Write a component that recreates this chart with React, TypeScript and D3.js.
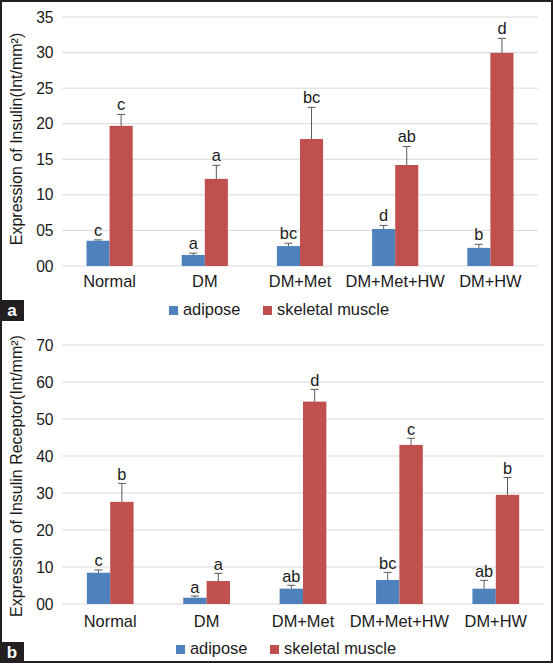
import React from "react";
import * as d3 from "d3";

const categories = ["Normal", "DM", "DM+Met", "DM+Met+HW", "DM+HW"];
const seriesNames = ["adipose", "skeletal muscle"];

// Panel a: Expression of Insulin
const insAdipose = [3.55, 1.55, 2.8, 5.2, 2.55];
const insAdiposeErr = [0.12, 0.25, 0.4, 0.5, 0.5];
const insMuscle = [19.7, 12.25, 17.85, 14.2, 29.95];
const insMuscleErr = [1.6, 1.9, 4.45, 2.6, 2.05];
const insAdiposeLbl = ["c", "a", "bc", "d", "b"];
const insMuscleLbl = ["c", "a", "bc", "ab", "d"];
const insTicks = [0, 5, 10, 15, 20, 25, 30, 35];
const insTickLabels = ["00", "05", "10", "15", "20", "25", "30", "35"];

// Panel b: Expression of Insulin Receptor
const recAdipose = [8.45, 1.7, 4.15, 6.5, 4.15];
const recAdiposeErr = [0.75, 0.45, 0.9, 2.05, 2.25];
const recMuscle = [27.6, 6.2, 54.7, 43.0, 29.5];
const recMuscleErr = [5.0, 2.1, 3.3, 1.8, 4.7];
const recAdiposeLbl = ["c", "a", "ab", "bc", "ab"];
const recMuscleLbl = ["b", "a", "d", "c", "b"];
const recTicks = [0, 10, 20, 30, 40, 50, 60, 70];
const recTickLabels = ["00", "10", "20", "30", "40", "50", "60", "70"];

const BLUE = "#4F81BD";
const RED = "#C0504D";
const FONT = "Liberation Sans, Arial, sans-serif";
const TXT = "#1a1a1a";
const FS = 16.4;

type PanelProps = {
  top: number; bottom: number; right: number; max: number;
  ticks: number[]; tickLabels: string[];
  adipose: number[]; adiposeErr: number[]; muscle: number[]; muscleErr: number[];
  adiposeLbl: string[]; muscleLbl: string[];
  title: string; titleY: number; catY: number; legendY: number; legendX: number;
  lblOffset: number;
};

function Panel(p: PanelProps) {
  const left = 62;
  const y = d3.scaleLinear().domain([0, p.max]).range([p.bottom, p.top]);
  const x0 = d3.scaleBand<string>().domain(categories).range([left, p.right])
    .paddingInner(0.515).paddingOuter(0.2575);
  const x1 = d3.scaleBand<string>().domain(seriesNames).range([0, x0.bandwidth()]);
  const series = [
    { name: seriesNames[0], vals: p.adipose, errs: p.adiposeErr, lbls: p.adiposeLbl, color: BLUE },
    { name: seriesNames[1], vals: p.muscle, errs: p.muscleErr, lbls: p.muscleLbl, color: RED },
  ];
  return (
    <g>
      {p.ticks.map((t, i) => (
        <g key={t}>
          <line x1={left} x2={p.right} y1={y(t)} y2={y(t)} stroke="#D9D9D9" strokeWidth={1} />
          <text x={53.5} y={y(t)} dy="0.36em" textAnchor="end" fontSize={15.6} fill={TXT}>{p.tickLabels[i]}</text>
        </g>
      ))}
      {series.map((s) => (
        <g key={s.name}>
          {categories.map((c, i) => {
            const bx = (x0(c) as number) + (x1(s.name) as number);
            const bw = x1.bandwidth();
            const cx = bx + bw / 2;
            const top = y(s.vals[i]);
            const et = y(s.vals[i] + s.errs[i]);
            return (
              <g key={c}>
                <rect x={bx} y={top} width={bw} height={y(0) - top} fill={s.color} />
                <line x1={cx} x2={cx} y1={top} y2={et} stroke="#595959" strokeWidth={1} />
                <line x1={cx - 4} x2={cx + 4} y1={et} y2={et} stroke="#595959" strokeWidth={1} />
                <text x={cx} y={et - p.lblOffset} textAnchor="middle" fontSize={FS} fill={TXT}>{s.lbls[i]}</text>
              </g>
            );
          })}
        </g>
      ))}
      {categories.map((c) => (
        <text key={c} x={(x0(c) as number) + x0.bandwidth() / 2} y={p.catY} textAnchor="middle" fontSize={FS} fill={TXT}>{c}</text>
      ))}
      <text transform={`translate(22,${p.titleY}) rotate(-90)`} textAnchor="middle" fontSize={16} fill={TXT}>{p.title}</text>
      <g>
        <rect x={p.legendX} y={p.legendY - 9} width={9} height={9} fill={BLUE} />
        <text x={p.legendX + 14} y={p.legendY} fontSize={FS} fill={TXT}>{seriesNames[0]}</text>
        <rect x={p.legendX + 94} y={p.legendY - 9} width={9} height={9} fill={RED} />
        <text x={p.legendX + 108} y={p.legendY} fontSize={FS} fill={TXT}>{seriesNames[1]}</text>
      </g>
    </g>
  );
}

export default function App() {
  return (
    <svg width={553} height={664} style={{ position: "absolute", left: 0, top: 0, background: "#fff" }} fontFamily={FONT}>
      <rect x={0} y={0} width={553} height={664} fill="#fff" />
      <Panel top={17} bottom={266} right={538} max={35} ticks={insTicks} tickLabels={insTickLabels}
        adipose={insAdipose} adiposeErr={insAdiposeErr} muscle={insMuscle} muscleErr={insMuscleErr}
        adiposeLbl={insAdiposeLbl} muscleLbl={insMuscleLbl}
        title="Expression of Insulin(Int/mm²)" titleY={139} catY={287} legendY={315} legendX={169} lblOffset={4} />
      <Panel top={345} bottom={604} right={544} max={70} ticks={recTicks} tickLabels={recTickLabels}
        adipose={recAdipose} adiposeErr={recAdiposeErr} muscle={recMuscle} muscleErr={recMuscleErr}
        adiposeLbl={recAdiposeLbl} muscleLbl={recMuscleLbl}
        title="Expression of Insulin Receptor(Int/mm²)" titleY={476} catY={627} legendY={654} legendX={176} lblOffset={3.5} />
      <rect x={1} y={1} width={551} height={661} fill="none" stroke="#231F20" strokeWidth={2} />
      <rect x={0} y={300} width={24} height={21} fill="#231F20" />
      <text x={12} y={316} textAnchor="middle" fontSize={17} fontWeight="bold" fill="#fff">a</text>
      <rect x={0} y={642} width={24} height={21} fill="#231F20" />
      <text x={12} y={658} textAnchor="middle" fontSize={17} fontWeight="bold" fill="#fff">b</text>
    </svg>
  );
}
